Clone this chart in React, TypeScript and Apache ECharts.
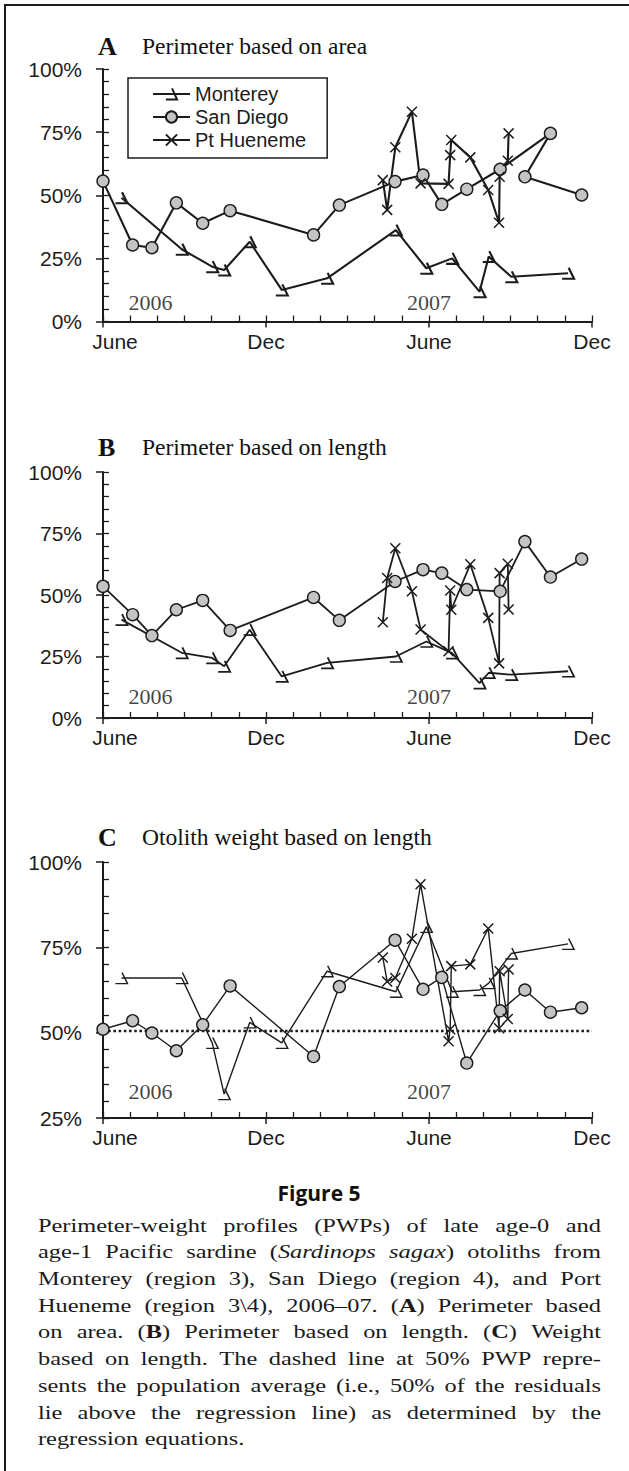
import React, { useEffect, useRef } from 'react';
import * as echarts from 'echarts';

// ---------- data ----------
const xTickLabels = ['June', 'Dec', 'June', 'Dec']; // at months 0, 6, 12, 18 (June 2006 = 0)
const yearLabels = ['2006', '2007'];
const yearMonths = [1.75, 12.0];
const yearLevels = [7.5, 8.8, 32.8];

const siteNames = ['Monterey', 'San Diego', 'Pt Hueneme'];

const montereyMonths = [0.68, 2.9, 4.02, 4.46, 5.4, 6.58, 8.25, 10.78, 11.9, 12.85, 13.86, 14.2, 15.03, 17.12];
const sdMonths = [0, 1.09, 1.8, 2.7, 3.67, 4.68, 7.75, 8.7, 10.75, 11.78, 12.47, 13.39, 14.62, 15.53, 16.47, 17.62];
const sdMonthsA = [0, 1.09, 1.8, 2.7, 3.67, 4.68, 7.75, 8.7, 10.75, 11.78, 12.47, 13.39, 14.62, 16.47, 15.53, 17.62];
const phMonths = [10.3, 10.46, 10.76, 11.37, 11.69, 12.72, 12.78, 12.82, 13.52, 14.18, 14.58, 14.6, 14.9, 14.93];

// Panel A: perimeter based on area
const montereyA = [49, 28.6, 21.7, 20.4, 31.6, 12.5, 17.1, 36.2, 21.1, 25.0, 11.8, 25.7, 17.7, 19.1];
const sdA = [55.6, 30.3, 29.2, 47.0, 38.9, 43.9, 34.3, 46.1, 55.4, 58.0, 46.4, 52.4, 60.3, 74.5, 57.3, 50.1];
const phA = [56.0, 44.2, 69.0, 83.1, 54.7, 54.5, 65.9, 71.9, 65.0, 52.1, 39.1, 57.3, 63.7, 74.5];

// Panel B: perimeter based on length
const montereyB = [40, 26.5, 24.4, 21.0, 35.9, 16.9, 22.4, 25.0, 31.1, 26.4, 14.2, 18.4, 17.6, 19.0];
const sdB = [53.5, 42.0, 33.5, 44.0, 47.8, 35.6, 49.0, 39.7, 55.5, 60.3, 58.9, 52.2, 51.5, 71.7, 57.3, 64.6];
const phB = [38.9, 56.9, 69.0, 51.5, 36.0, 27.1, 51.8, 44.0, 62.5, 40.7, 22.2, 58.9, 62.7, 44.1];

// Panel C: otolith weight based on length
const montereyC = [66, 66, 47, 32, 53, 47, 68, 62, 81, 62, 62.5, 64.5, 73.2, 76];
const sdC = [51.0, 53.5, 49.9, 44.7, 52.3, 63.7, 43.0, 63.5, 77.1, 62.7, 66.2, 41.1, 56.4, 62.5, 56.0, 57.3];
const phC = [72, 65, 66, 77.5, 93.5, 47.5, 51, 69.5, 70, 80.5, 51.3, 68, 54, 68.5];
const avgLevelC = 50.5;

const panelLetters = ['A', 'B', 'C'];
const panelTitles = ['Perimeter based on area', 'Perimeter based on length', 'Otolith weight based on length'];
const yMins = [0, 0, 25];

const figureLabel = 'Figure 5';
const captionLines = [
  'Perimeter-weight profiles (PWPs) of late age-0 and',
  'age-1 Pacific sardine (*Sardinops* *sagax*) otoliths from',
  'Monterey (region 3), San Diego (region 4), and Port',
  'Hueneme (region 3\\4), 2006\u201307. (#A#) Perimeter based',
  'on area. (#B#) Perimeter based on length. (#C#) Weight',
  'based on length. The dashed line at 50% PWP repre-',
  'sents the population average (i.e., 50% of the residuals',
  'lie above the regression line) as determined by the',
  'regression equations.',
];

// ---------- layout / style ----------
const ink = '#1c1c1c';
const grids = [
  { left: 103, top: 69, width: 489, height: 252.5 },
  { left: 103, top: 472, width: 489, height: 246 },
  { left: 103, top: 862, width: 489, height: 256 },
];
const titleTops = [33, 434, 824];
const lineWidths = [2.1, 1.8, 1.4];

const pair = (xs: number[], ys: number[]) => xs.map((x, i) => [x, ys[i]]);

type Run = { t: string; i: boolean; b: boolean };
function parseWord(w: string): Run[] {
  const runs: Run[] = [];
  let i = false, b = false, cur = '';
  for (const ch of w) {
    if (ch === '*' || ch === '#') {
      if (cur) runs.push({ t: cur, i, b });
      cur = '';
      if (ch === '*') i = !i; else b = !b;
    } else cur += ch;
  }
  if (cur) runs.push({ t: cur, i, b });
  return runs;
}

function buildCaption(): any[] {
  const canvas = document.createElement('canvas');
  const ctx = canvas.getContext('2d')!;
  const family = 'Liberation Serif';
  const size = 19.5;
  const left = 38, right = 601, top0 = 1225, lh = 26.7;
  const W = right - left;
  const fontStr = (r: Run) => `${r.i ? 'italic ' : ''}${r.b ? 'bold ' : ''}${size}px "${family}"`;
  const runW = (r: Run) => { ctx.font = fontStr(r); return ctx.measureText(r.t).width; };
  const wordW = (w: Run[]) => w.reduce((s, r) => s + runW(r), 0);
  const parsed = captionLines.map((l) => l.split(' ').map(parseWord));
  const minGap = size * 0.3;
  let scale = 1.25;
  parsed.forEach((words, li) => {
    if (li === parsed.length - 1) return;
    const total = words.reduce((s, w) => s + wordW(w), 0);
    scale = Math.min(scale, (W - (words.length - 1) * minGap) / total);
  });
  const els: any[] = [];
  parsed.forEach((words, li) => {
    const y = top0 + li * lh;
    const total = words.reduce((s, w) => s + wordW(w), 0) * scale;
    const last = li === parsed.length - 1;
    const gap = last ? size * 0.27 * scale : (W - total) / (words.length - 1);
    let x = left;
    words.forEach((w) => {
      w.forEach((r) => {
        els.push({
          type: 'text', x, y, scaleX: scale, silent: true,
          style: {
            text: r.t, fontFamily: family, fontSize: size,
            fontStyle: r.i ? 'italic' : 'normal', fontWeight: r.b ? 'bold' : 'normal',
            fill: '#1a1a1a', verticalAlign: 'middle', textVerticalAlign: 'middle', align: 'left', textAlign: 'left',
          },
        });
        x += runW(r) * scale;
      });
      x += gap;
    });
  });
  return els;
}

function buildOption(): any {
  const xAxes: any[] = [];
  const yAxes: any[] = [];
  const series: any[] = [];
  const titles: any[] = [];
  const panels = [
    { m: montereyA, s: sdA, sx: sdMonthsA, p: phA },
    { m: montereyB, s: sdB, sx: sdMonths, p: phB },
    { m: montereyC, s: sdC, sx: sdMonths, p: phC },
  ];
  panels.forEach((pd, g) => {
    const lw = lineWidths[g];
    xAxes.push({
      type: 'value', gridIndex: g, min: 0, max: 18, interval: 6, position: 'bottom',
      axisLine: { show: true, onZero: false, lineStyle: { color: ink, width: 2 } },
      axisTick: { show: true, inside: false, length: 6, lineStyle: { color: ink, width: 1.5 } },
      axisLabel: {
        margin: 9, fontFamily: 'Liberation Sans', fontSize: 21, color: ink,
        formatter: (v: number) => (v === 0 ? '{first|June}' : xTickLabels[Math.round(v / 6)]),
        rich: { first: { padding: [0, 0, 0, 24], fontFamily: 'Liberation Sans', fontSize: 21, color: ink } },
      },
      splitLine: { show: false },
    });
    xAxes.push({
      type: 'value', gridIndex: g, min: 0, max: 18, interval: 1, position: 'bottom',
      axisLine: { show: false, onZero: false },
      axisTick: { show: true, inside: true, length: 6, lineStyle: { color: ink, width: 1.3 } },
      axisLabel: { show: false }, splitLine: { show: false },
    });
    yAxes.push({
      type: 'value', gridIndex: g, min: yMins[g], max: 100, interval: 25, position: 'left',
      axisLine: { show: true, onZero: false, lineStyle: { color: ink, width: 2 } },
      axisTick: { show: true, inside: false, length: 7, lineStyle: { color: ink, width: 1.5 } },
      axisLabel: { margin: 21, fontFamily: 'Liberation Sans', fontSize: 21, color: ink, formatter: '{value}%' },
      splitLine: { show: false },
    });
    yAxes.push({
      type: 'value', gridIndex: g, min: yMins[g], max: 100, interval: 5, position: 'left',
      axisLine: { show: false, onZero: false },
      axisTick: { show: true, inside: true, length: 6, lineStyle: { color: ink, width: 1.3 } },
      axisLabel: { show: false }, splitLine: { show: false },
    });
    const xi = g * 2, yi = g * 2;
    if (g === 2) {
      series.push({
        type: 'line', name: 'avg', xAxisIndex: xi, yAxisIndex: yi, data: [[0, avgLevelC], [18, avgLevelC]],
        symbol: 'none', silent: true, lineStyle: { color: ink, width: 2.6, type: [2.6, 2.6] },
      });
    }
    series.push({
      type: 'line', name: siteNames[0], xAxisIndex: xi, yAxisIndex: yi, data: pair(montereyMonths, pd.m),
      symbol: 'path://M6,0 L11,9 L0,9', symbolSize: [12, 11], showAllSymbol: true,
      lineStyle: { color: ink, width: lw }, itemStyle: { color: 'rgba(0,0,0,0)', borderColor: ink, borderWidth: lw },
    });
    series.push({
      type: 'line', name: siteNames[1], xAxisIndex: xi, yAxisIndex: yi, data: pair(pd.sx, pd.s),
      symbol: 'circle', symbolSize: 12, showAllSymbol: true,
      lineStyle: { color: ink, width: lw }, itemStyle: { color: '#c4c4c4', borderColor: ink, borderWidth: 1.4 },
    });
    series.push({
      type: 'line', name: siteNames[2], xAxisIndex: xi, yAxisIndex: yi, data: pair(phMonths, pd.p),
      symbol: 'path://M0,0 L10,10 M10,0 L0,10', symbolSize: 10, showAllSymbol: true,
      lineStyle: { color: ink, width: lw }, itemStyle: { color: 'rgba(0,0,0,0)', borderColor: ink, borderWidth: 1.5 },
    });
    series.push({
      type: 'scatter', name: 'years', xAxisIndex: xi, yAxisIndex: yi, silent: true,
      data: pair(yearMonths, [yearLevels[g], yearLevels[g]]),
      symbolSize: 1, itemStyle: { color: 'rgba(0,0,0,0)' },
      label: {
        show: true, position: 'inside', formatter: (p: any) => yearLabels[p.dataIndex],
        fontFamily: 'Liberation Serif', fontSize: 22, color: '#111', textBorderWidth: 0,
      },
    });
    titles.push({
      left: 98, top: titleTops[g], padding: 0,
      text: `{l|${panelLetters[g]}}{t|${panelTitles[g]}}`,
      textStyle: {
        fontWeight: 'normal',
        rich: {
          l: { fontFamily: 'Liberation Serif', fontWeight: 'bold', fontSize: 26, width: 44, color: '#111', lineHeight: 26 },
          t: { fontFamily: 'Liberation Serif', fontWeight: 'normal', fontSize: 23.5, color: '#111', lineHeight: 26 },
        },
      },
    });
  });

  const graphic: any[] = [
    { type: 'line', silent: true, shape: { x1: 5, y1: 5, x2: 629, y2: 5 }, style: { stroke: ink, lineWidth: 2 } },
    { type: 'line', silent: true, shape: { x1: 5, y1: 4, x2: 5, y2: 1471 }, style: { stroke: ink, lineWidth: 2 } },
    {
      type: 'text', x: 319, y: 1193, silent: true,
      style: {
        text: figureLabel, fontFamily: 'Open Sans', fontWeight: 'bold', fontSize: 21, fill: '#111',
        align: 'center', textAlign: 'center', verticalAlign: 'middle', textVerticalAlign: 'middle',
      },
    },
    ...buildCaption(),
  ];

  return {
    animation: false,
    backgroundColor: '#fff',
    title: titles,
    grid: grids.map((gr) => ({ ...gr, containLabel: false, outerBoundsMode: 'none' })),
    xAxis: xAxes,
    yAxis: yAxes,
    legend: {
      data: siteNames, orient: 'vertical', left: 128, top: 78, padding: [6, 21, 8, 24],
      itemWidth: 37, itemHeight: 14, itemGap: 3, selectedMode: false,
      borderColor: ink, borderWidth: 1.5, backgroundColor: '#fff',
      textStyle: { fontFamily: 'Liberation Sans', fontSize: 20, color: ink, lineHeight: 20 },
    },
    series,
    graphic,
  };
}

export default function App() {
  const ref = useRef<HTMLDivElement>(null);
  useEffect(() => {
    const chart = echarts.init(ref.current!, null, { renderer: 'svg', width: 629, height: 1471 });
    chart.setOption(buildOption());
    return () => chart.dispose();
  }, []);
  return (
    <div
      ref={ref}
      style={{ position: 'fixed', left: 0, top: 0, width: 629, height: 1471, background: '#fff' }}
    />
  );
}
